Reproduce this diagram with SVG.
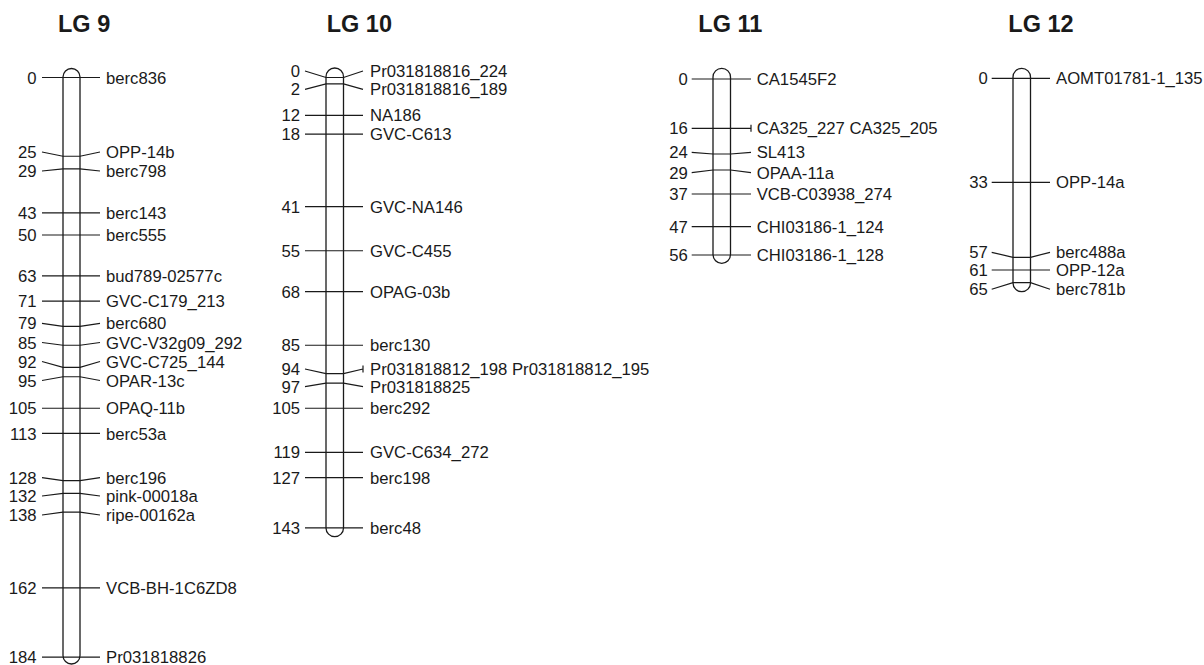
<svg xmlns="http://www.w3.org/2000/svg" width="1204" height="665" viewBox="0 0 1204 665">
<style>
.bg{fill:#ffffff}
.chr{fill:none;stroke:#1a1a1a;stroke-width:1.3}
.ln{fill:none;stroke:#1a1a1a;stroke-width:1.2}
.t{font-family:"Liberation Sans",Arial,sans-serif;font-size:16.7px;fill:#1a1a1a}
.n{font-family:"Liberation Sans",Arial,sans-serif;font-size:16.7px;fill:#1a1a1a;text-anchor:end}
.h{font-family:"Liberation Sans",Arial,sans-serif;font-size:23.5px;font-weight:bold;fill:#1a1a1a}
</style>
<rect class="bg" x="0" y="0" width="1204" height="665"/>

<g id="connectors">
<!-- LG 9 -->
<path class="ln" d="M42 77.5H100"/>
<path class="ln" d="M42 152L63 156.25H80L100 152"/>
<path class="ln" d="M42 171L63 168.85H80L100 171"/>
<path class="ln" d="M42 212.95H100"/>
<path class="ln" d="M42 235H100"/>
<path class="ln" d="M42 275.95H100"/>
<path class="ln" d="M42 301.15H100"/>
<path class="ln" d="M42 323.3L63 326.35H80L100 323.3"/>
<path class="ln" d="M42 342.5L63 345.25H80L100 342.5"/>
<path class="ln" d="M42 361.5L63 367.3H80L100 361.5"/>
<path class="ln" d="M42 380.5L63 376.75H80L100 380.5"/>
<path class="ln" d="M42 408.25H100"/>
<path class="ln" d="M42 433.45H100"/>
<path class="ln" d="M42 477.7L63 480.7H80L100 477.7"/>
<path class="ln" d="M42 496L63 493.3H80L100 496"/>
<path class="ln" d="M42 515L63 512.2H80L100 515"/>
<path class="ln" d="M42 587.8H100"/>
<path class="ln" d="M42 657.1H100"/>
<!-- LG 10 -->
<path class="ln" d="M305 71L326 77.5H343.5L363 71"/>
<path class="ln" d="M305 89.3L326 83.8H343.5L363 89.3"/>
<path class="ln" d="M305 115.3H363"/>
<path class="ln" d="M305 134.2H363"/>
<path class="ln" d="M305 206.65H363"/>
<path class="ln" d="M305 250.75H363"/>
<path class="ln" d="M305 291.7H363"/>
<path class="ln" d="M305 345.25H363"/>
<path class="ln" d="M305 369L326 373.6H343.5L363 369M363 365.5V372.5"/>
<path class="ln" d="M305 386.7L326 383.05H343.5L363 386.7"/>
<path class="ln" d="M305 408.25H363"/>
<path class="ln" d="M305 452.35H363"/>
<path class="ln" d="M305 477.55H363"/>
<path class="ln" d="M305 527.95H363"/>
<!-- LG 11 -->
<path class="ln" d="M691.7 79H751"/>
<path class="ln" d="M691.7 128.3H751M751 124.8V131.8"/>
<path class="ln" d="M691.7 152.3L713 154H730.5L751 152.3"/>
<path class="ln" d="M691.7 172.7L713 170H730.5L751 172.7"/>
<path class="ln" d="M691.7 194H751"/>
<path class="ln" d="M691.7 226.7H751"/>
<path class="ln" d="M691.7 255H751"/>
<!-- LG 12 -->
<path class="ln" d="M991.7 78.3H1050"/>
<path class="ln" d="M991.7 182.3H1050"/>
<path class="ln" d="M991.7 252.3L1013 257.3H1030.5L1050 252.3"/>
<path class="ln" d="M991.7 270H1050"/>
<path class="ln" d="M991.7 289.3L1013 282.7H1030.5L1050 289.3"/>
</g>

<g id="lg9">
<text class="h" x="58" y="32.3">LG 9</text>
<rect class="chr" x="63" y="68.5" width="17" height="595.5" rx="8.5"/>
<text class="n" x="36.5" y="83.5">0</text><text class="t" x="106" y="83.5">berc836</text>
<text class="n" x="36.5" y="158">25</text><text class="t" x="106" y="158">OPP-14b</text>
<text class="n" x="36.5" y="177">29</text><text class="t" x="106" y="177">berc798</text>
<text class="n" x="36.5" y="219">43</text><text class="t" x="106" y="219">berc143</text>
<text class="n" x="36.5" y="241">50</text><text class="t" x="106" y="241">berc555</text>
<text class="n" x="36.5" y="282">63</text><text class="t" x="106" y="282">bud789-02577c</text>
<text class="n" x="36.5" y="307">71</text><text class="t" x="106" y="307">GVC-C179_213</text>
<text class="n" x="36.5" y="329.3">79</text><text class="t" x="106" y="329.3">berc680</text>
<text class="n" x="36.5" y="348.5">85</text><text class="t" x="106" y="348.5">GVC-V32g09_292</text>
<text class="n" x="36.5" y="367.5">92</text><text class="t" x="106" y="367.5">GVC-C725_144</text>
<text class="n" x="36.5" y="386.5">95</text><text class="t" x="106" y="386.5">OPAR-13c</text>
<text class="n" x="36.5" y="414.3">105</text><text class="t" x="106" y="414.3">OPAQ-11b</text>
<text class="n" x="36.5" y="439.5">113</text><text class="t" x="106" y="439.5">berc53a</text>
<text class="n" x="36.5" y="483.7">128</text><text class="t" x="106" y="483.7">berc196</text>
<text class="n" x="36.5" y="502">132</text><text class="t" x="106" y="502">pink-00018a</text>
<text class="n" x="36.5" y="521">138</text><text class="t" x="106" y="521">ripe-00162a</text>
<text class="n" x="36.5" y="593.8">162</text><text class="t" x="106" y="593.8">VCB-BH-1C6ZD8</text>
<text class="n" x="36.5" y="663.1">184</text><text class="t" x="106" y="663.1">Pr031818826</text>
</g>

<g id="lg10">
<text class="h" x="326.7" y="32.3">LG 10</text>
<rect class="chr" x="326" y="68" width="17.5" height="468.7" rx="8.75"/>
<text class="n" x="300" y="77">0</text><text class="t" x="370" y="77">Pr031818816_224</text>
<text class="n" x="300" y="95.3">2</text><text class="t" x="370" y="95.3">Pr031818816_189</text>
<text class="n" x="300" y="121.3">12</text><text class="t" x="370" y="121.3">NA186</text>
<text class="n" x="300" y="140.2">18</text><text class="t" x="370" y="140.2">GVC-C613</text>
<text class="n" x="300" y="212.65">41</text><text class="t" x="370" y="212.65">GVC-NA146</text>
<text class="n" x="300" y="256.75">55</text><text class="t" x="370" y="256.75">GVC-C455</text>
<text class="n" x="300" y="297.7">68</text><text class="t" x="370" y="297.7">OPAG-03b</text>
<text class="n" x="300" y="351.25">85</text><text class="t" x="370" y="351.25">berc130</text>
<text class="n" x="300" y="375">94</text><text class="t" x="370" y="375">Pr031818812_198 Pr031818812_195</text>
<text class="n" x="300" y="392.7">97</text><text class="t" x="370" y="392.7">Pr031818825</text>
<text class="n" x="300" y="414.25">105</text><text class="t" x="370" y="414.25">berc292</text>
<text class="n" x="300" y="458.35">119</text><text class="t" x="370" y="458.35">GVC-C634_272</text>
<text class="n" x="300" y="483.55">127</text><text class="t" x="370" y="483.55">berc198</text>
<text class="n" x="300" y="533.95">143</text><text class="t" x="370" y="533.95">berc48</text>
</g>

<g id="lg11">
<text class="h" x="698.3" y="32.3">LG 11</text>
<rect class="chr" x="713" y="68.3" width="17.5" height="195" rx="8.75"/>
<text class="n" x="687.7" y="85">0</text><text class="t" x="756.7" y="85">CA1545F2</text>
<text class="n" x="687.7" y="134.3">16</text><text class="t" x="756.7" y="134.3">CA325_227 CA325_205</text>
<text class="n" x="687.7" y="158.3">24</text><text class="t" x="756.7" y="158.3">SL413</text>
<text class="n" x="687.7" y="178.7">29</text><text class="t" x="756.7" y="178.7">OPAA-11a</text>
<text class="n" x="687.7" y="200">37</text><text class="t" x="756.7" y="200">VCB-C03938_274</text>
<text class="n" x="687.7" y="232.7">47</text><text class="t" x="756.7" y="232.7">CHI03186-1_124</text>
<text class="n" x="687.7" y="261">56</text><text class="t" x="756.7" y="261">CHI03186-1_128</text>
</g>

<g id="lg12">
<text class="h" x="1008.3" y="32.3">LG 12</text>
<rect class="chr" x="1013" y="68.3" width="17.5" height="223.4" rx="8.75"/>
<text class="n" x="987.7" y="84.3">0</text><text class="t" x="1056" y="84.3">AOMT01781-1_135</text>
<text class="n" x="987.7" y="188.3">33</text><text class="t" x="1056" y="188.3">OPP-14a</text>
<text class="n" x="987.7" y="258.3">57</text><text class="t" x="1056" y="258.3">berc488a</text>
<text class="n" x="987.7" y="276">61</text><text class="t" x="1056" y="276">OPP-12a</text>
<text class="n" x="987.7" y="295.3">65</text><text class="t" x="1056" y="295.3">berc781b</text>
</g>
</svg>
